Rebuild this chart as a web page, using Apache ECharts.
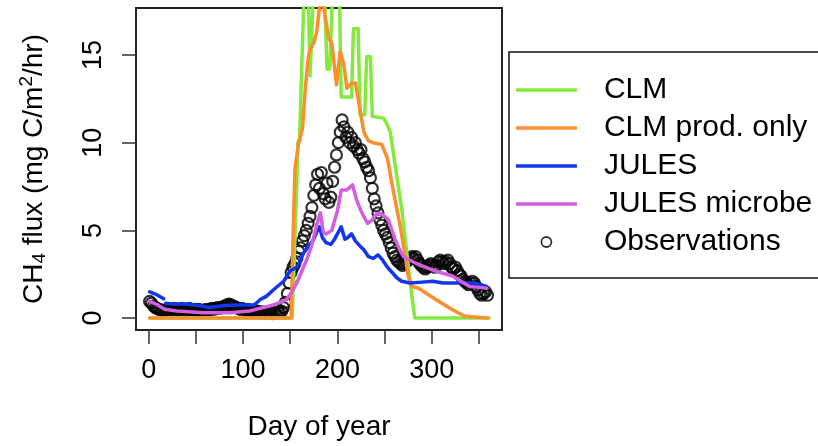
<!DOCTYPE html>
<html>
<head>
<meta charset="utf-8">
<script src="https://cdn.jsdelivr.net/npm/echarts@6/dist/echarts.min.js"></script>
<style>
  html, body { margin: 0; padding: 0; background: #fff; }
  #chart { width: 818px; height: 446px; }
</style>
</head>
<body>
<div id="chart"></div>
<script>
// Daily CH4 flux through the year: two CLM runs, two JULES runs and the site observations.

// CLM (day of year, mg C/m2/hr)
const clmDay  = [1,152,157,158,160,162,165,169,171,173,175,186,189,192,195,202,204,215,217,222,224,229,231,235,237,249,253,256,261,268,274,279,282,361];
const clmFlux = [0,0,7.6,10.0,10.2,14.0,19.0,19.0,13.8,13.8,19.0,19.0,14.2,14.2,19.0,19.0,12.6,12.6,16.5,16.5,11.6,11.6,14.9,14.9,11.5,11.4,11.0,10.6,8.8,6.3,3.5,1.2,0,0];

// CLM, production only
const prodDay  = [1,151,153,155,159,163,166,169,171,175,178,181,183,185,187,191,194,198,199,203,207,210,215,219,222,228,233,238,240,247,253,259,266,272,275,279,286,303,321,335,359];
const prodFlux = [0,0,4.5,8.5,10.0,10.8,13.1,14.8,15.3,15.7,16.3,17.7,18.5,18.5,17.2,15.9,15.7,13.8,13.3,15.2,14.4,13.1,13.4,13.4,12.5,10.6,10.1,10.0,10.1,9.9,9.1,7.3,5.4,3.5,2.4,1.8,1.7,1.1,0.5,0.1,0];

// JULES (one missing day near the start)
const julesDay  = [1,8,16,17,18,25,40,55,64,79,93,111,114,118,125,132,143,150,157,160,164,171,175,178,181,184,188,193,197,201,204,208,211,215,219,224,228,233,238,243,248,253,258,263,268,277,290,301,312,322,335,344,352,358];
const julesFlux = [1.5,1.35,1.1,null,0.85,0.8,0.8,0.7,0.6,0.7,0.75,0.75,0.85,1.05,1.25,1.6,2.1,2.7,2.9,3.2,3.7,4.2,4.5,4.9,5.2,4.6,4.3,4.2,4.5,4.9,5.2,4.5,4.6,4.8,4.4,4.1,3.9,3.5,3.4,3.6,3.3,2.9,2.6,2.3,2.1,2.0,2.05,2.1,2.0,2.0,2.0,2.0,1.9,1.8];

// JULES with microbial scheme
const micDay  = [1,8,17,30,58,86,107,114,122,129,137,146,153,157,164,168,173,178,182,185,188,194,200,204,210,216,220,225,232,237,241,245,250,254,261,266,270,277,284,291,298,309,322,331,340,350,358];
const micFlux = [0.95,0.8,0.5,0.4,0.3,0.3,0.4,0.5,0.6,0.7,0.85,1.05,1.6,2.0,2.9,3.4,4.2,5.3,6.0,4.9,4.8,5.0,6.1,7.3,7.3,7.6,6.8,6.1,5.4,5.6,5.9,6.0,5.8,5.6,4.5,3.9,3.5,3.3,3.1,2.95,2.8,2.6,2.4,2.1,1.8,1.75,1.7];

// Observations, every second day
const obsDay = [
  1,3,5,7,9,11,13,15,17,19, 21,23,25,27,29,31,33,35,37,39,
  41,43,45,47,49,51,53,55,57,59, 61,63,65,67,69,71,73,75,77,79,
  81,83,85,87,89,91,93,95,97,99, 101,103,105,107,109,111,113,115,117,119,
  121,123,125,127,129,131,133,135,137,139, 141,143,145,147,149,151,153,155,157,159,
  161,163,165,167,169,171,173,175,177,179, 181,183,185,187,189,191,193,195,197,199,
  201,203,205,207,209,211,213,215,217,219, 221,223,225,227,229,231,233,235,237,239,
  241,243,245,247,249,251,253,255,257,259, 261,263,265,267,269,271,273,275,277,279,
  281,283,285,287,289,291,293,295,297,299, 301,303,305,307,309,311,313,315,317,319,
  321,323,325,327,329,331,333,335,337,339, 341,343,345,347,349,351,353,355,357,359
];
const obsFlux = [
  0.95,0.85,0.7,0.6,0.55,0.5,0.45,0.45,0.4,0.45, 0.5,0.45,0.5,0.55,0.5,0.45,0.5,0.55,0.5,0.45,
  0.5,0.55,0.5,0.45,0.5,0.45,0.5,0.45,0.4,0.45, 0.5,0.45,0.5,0.55,0.5,0.55,0.6,0.55,0.6,0.65,
  0.7,0.75,0.8,0.75,0.7,0.65,0.6,0.55,0.5,0.55, 0.5,0.45,0.5,0.45,0.4,0.4,0.35,0.4,0.35,0.3,
  0.35,0.3,0.3,0.35,0.3,0.25,0.3,0.3,0.35,0.3, 0.4,0.6,0.9,1.4,2.0,2.6,2.9,3.1,3.4,3.8,
  4.0,4.4,4.7,5.0,5.4,5.8,6.3,7.0,7.6,8.2, 7.4,8.3,7.1,6.8,7.7,6.6,6.9,7.8,8.6,9.3,
  10.0,10.6,11.3,10.9,10.3,10.6,10.0,10.3,9.8,10.0, 9.6,9.4,9.6,9.1,8.9,8.6,8.4,8.0,7.4,6.8,
  6.4,6.0,5.6,5.3,5.0,4.8,4.6,4.3,4.0,3.7, 3.5,3.3,3.2,3.1,3.0,3.1,3.2,3.3,3.4,3.5,
  3.4,3.5,3.3,3.1,3.0,2.9,2.8,2.9,3.0,3.1, 3.0,2.9,3.0,3.2,3.3,3.2,3.1,3.2,3.3,3.1,
  2.9,2.8,2.9,2.7,2.5,2.4,2.2,2.1,2.0,1.9, 2.0,2.1,2.0,1.8,1.6,1.4,1.3,1.4,1.5,1.3
];

// Axis ticks and labels
const xTicks  = [0,50,100,150,200,250,300,350];
const xLabels = [0,100,200,300];
const yTicks  = [0,5,10,15];

const FONT = "'Liberation Sans', Arial, Helvetica, sans-serif";
const pairs = (xs, ys) => xs.map((x, i) => [x, ys[i]]);

// Legend icons in a 61x10 box: a 3.5px bar for model runs, a ring for observations.
// The leading move-tos pin the icon's bounding box to the full item box.
const ICON_LINE = 'path://M0,0M61,10M0,3.25L61,3.25L61,6.75L0,6.75Z';
const ICON_RING = 'path://M0,0M61,10M35.5,5A5,5,0,1,1,25.5,5A5,5,0,1,1,35.5,5Z';

function lineSeries(name, xs, ys, color) {
  return {
    name: name,
    type: 'line',
    data: pairs(xs, ys),
    symbol: 'none',
    showSymbol: false,
    connectNulls: false,
    clip: true,
    color: color,
    lineStyle: { width: 3.5, color: color, cap: 'round', join: 'round' },
    itemStyle: { color: color },
    emphasis: { disabled: true }
  };
}

const chart = echarts.init(document.getElementById('chart'), null, { renderer: 'canvas' });

chart.setOption({
  animation: false,
  backgroundColor: '#fff',
  grid: {
    left: 136, top: 8, right: 316, bottom: 111,
    show: true, borderColor: '#222', borderWidth: 2, backgroundColor: 'transparent'
  },
  xAxis: {
    type: 'value',
    min: -13.4, max: 374.4,
    name: 'Day of year',
    nameLocation: 'middle',
    nameGap: 83,
    nameTextStyle: { fontFamily: FONT, fontSize: 28, color: '#000' },
    axisLine: { show: false, onZero: false },
    splitLine: { show: false },
    axisTick: { show: true, length: 14, customValues: xTicks, lineStyle: { color: '#333', width: 1.5 } },
    axisLabel: { customValues: xLabels, margin: 27, fontFamily: FONT, fontSize: 27, color: '#000' }
  },
  yAxis: {
    type: 'value',
    min: -0.68, max: 17.68,
    name: '{a|CH}{s|4}{a| flux (mg C/m}{p|2}{a|/hr)}',
    nameLocation: 'middle',
    nameRotate: 90,
    nameGap: 84,
    nameTextStyle: {
      fontFamily: FONT, fontSize: 28, color: '#000',
      rich: {
        a: { fontFamily: FONT, fontSize: 28, color: '#000' },
        s: { fontFamily: FONT, fontSize: 19, color: '#000', padding: [11, 0, 0, 0] },
        p: { fontFamily: FONT, fontSize: 19, color: '#000', padding: [0, 0, 16, 0] }
      }
    },
    axisLine: { show: false, onZero: false },
    splitLine: { show: false },
    axisTick: { show: true, length: 14, customValues: yTicks, lineStyle: { color: '#333', width: 1.5 } },
    axisLabel: { customValues: yTicks, rotate: 90, margin: 29, fontFamily: FONT, fontSize: 27, color: '#000' }
  },
  legend: {
    data: [
      { name: 'CLM', icon: ICON_LINE, itemStyle: { borderWidth: 0 } },
      { name: 'CLM prod. only', icon: ICON_LINE, itemStyle: { borderWidth: 0 } },
      { name: 'JULES', icon: ICON_LINE, itemStyle: { borderWidth: 0 } },
      { name: 'JULES microbe', icon: ICON_LINE, itemStyle: { borderWidth: 0 } },
      { name: 'Observations', icon: ICON_RING,
        itemStyle: { color: 'rgba(0,0,0,0)', borderColor: '#000', borderWidth: 1.8 } }
    ],
    orient: 'vertical', left: 515, top: 71, padding: 0,
    itemWidth: 61, itemHeight: 10, itemGap: 0,
    selectedMode: false,
    textStyle: { fontFamily: FONT, fontSize: 30, color: '#000', lineHeight: 38, padding: [0, 0, 0, 22] }
  },
  graphic: [
    {
      type: 'rect', z: -1,
      shape: { x: 509, y: 52, width: 340, height: 226 },
      style: { fill: 'none', stroke: '#111', lineWidth: 1.5 }
    }
  ],
  series: [
    {
      name: 'Observations',
      type: 'scatter',
      data: pairs(obsDay, obsFlux),
      symbol: 'circle',
      symbolSize: 11,
      itemStyle: { color: 'rgba(0,0,0,0)', borderColor: '#000', borderWidth: 2.2 },
      emphasis: { disabled: true }
    },
    lineSeries('CLM', clmDay, clmFlux, '#84EA3E'),
    lineSeries('CLM prod. only', prodDay, prodFlux, '#FB8F2E'),
    lineSeries('JULES', julesDay, julesFlux, '#1236F0'),
    lineSeries('JULES microbe', micDay, micFlux, '#D35EDF')
  ]
});
</script>
</body>
</html>
